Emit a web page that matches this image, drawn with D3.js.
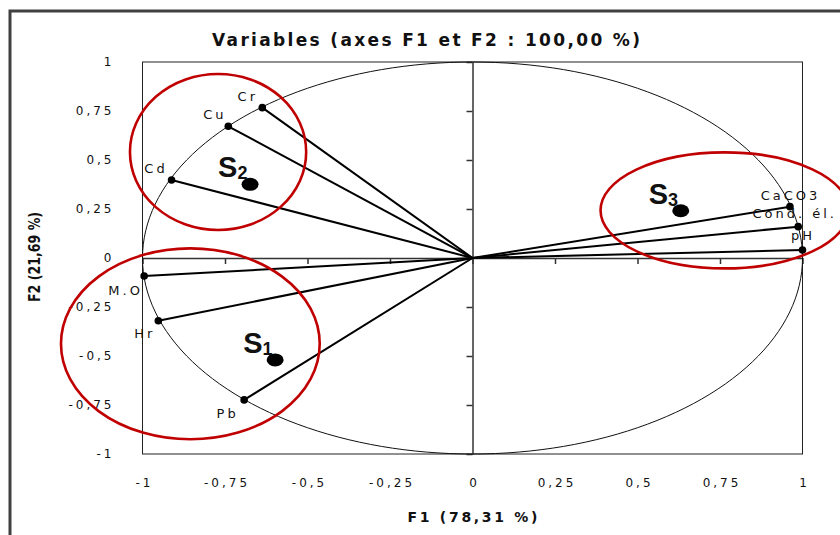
<!DOCTYPE html>
<html>
<head>
<meta charset="utf-8">
<script src="https://cdn.jsdelivr.net/npm/d3@7"></script>
<style>
  body { margin: 0; background: #fff; }
  svg { display: block; font-family: 'DejaVu Sans', sans-serif; }
</style>
</head>
<body>
<div id="chart"></div>
<script>
// Variables on the correlation circle (F1 / F2 loadings)
const VARIABLES = ['Cr', 'Cu', 'Cd', 'M.O', 'Hr', 'Pb', 'CaCO3', 'Cond. él.', 'pH'];
const F1 = [-0.637, -0.740, -0.912, -0.995, -0.952, -0.692, 0.962, 0.987, 1.000];
const F2 = [0.767, 0.672, 0.398, -0.092, -0.320, -0.724, 0.262, 0.160, 0.041];

const TICKS = [-1, -0.75, -0.5, -0.25, 0, 0.25, 0.5, 0.75, 1];
const TICK_LABELS = ['-1', '-0,75', '-0,5', '-0,25', '0', '0,25', '0,5', '0,75', '1'];

// Station groups S1..S3: marker position and the red ring around each group
const GROUPS = ['1', '2', '3'];
const GROUP_F1 = [-0.598, -0.674, 0.631];
const GROUP_F2 = [-0.520, 0.376, 0.241];
const RING_F1 = [-0.855, -0.771, 0.764];
const RING_F2 = [-0.438, 0.541, 0.243];
const RING_RX = [0.392, 0.267, 0.376];
const RING_RY = [0.487, 0.398, 0.296];

const TITLE = 'Variables (axes F1 et F2 : 100,00 %)';
const X_TITLE = 'F1 (78,31 %)';
const Y_TITLE = 'F2 (21,69 %)';

(function () {
  'use strict';
  const W = 840, H = 535;
  const plot = { left: 142.5, right: 802.5, top: 62, bottom: 454 };
  const LS = 3;   // letter spacing, tick labels
  const LS2 = 3;  // letter spacing, variable labels

  const svg = d3.select('#chart').append('svg').attr('width', W).attr('height', H);

  const x = d3.scaleLinear().domain([-1, 1]).range([plot.left, plot.right]);
  const y = d3.scaleLinear().domain([-1, 1]).range([plot.bottom, plot.top]);

  // outer frame (top + left only visible)
  svg.append('path')
    .attr('d', `M10,${H + 2} L10,11 L${W + 2},11`)
    .attr('fill', 'none').attr('stroke', '#404040').attr('stroke-width', 3);

  // title
  svg.append('text')
    .attr('x', 426).attr('y', 46).attr('text-anchor', 'middle')
    .attr('textLength', 428).attr('lengthAdjust', 'spacing')
    .style('font-size', '17px').style('font-weight', 'bold').style('fill', '#111')
    .text(TITLE);

  // plot box
  svg.append('rect')
    .attr('x', plot.left).attr('y', plot.top)
    .attr('width', plot.right - plot.left).attr('height', plot.bottom - plot.top)
    .attr('fill', 'none').attr('stroke', '#222').attr('stroke-width', 1);

  // tick labels along the box edges
  const fmt = v => TICK_LABELS[TICKS.indexOf(v)];
  const yLab = svg.append('g').attr('transform', `translate(${plot.left},0)`)
    .call(d3.axisLeft(y).tickValues(TICKS).tickFormat(fmt).tickSize(0).tickPadding(28));
  const xLab = svg.append('g').attr('transform', `translate(0,${plot.bottom})`)
    .call(d3.axisBottom(x).tickValues(TICKS).tickFormat(fmt).tickSize(0).tickPadding(24.5));
  [yLab, xLab].forEach(g => {
    g.select('.domain').remove();
    g.selectAll('text')
      .attr('font-family', null).attr('font-size', null)
      .style('font-family', "'DejaVu Sans', sans-serif")
      .style('font-size', '12px').style('letter-spacing', LS + 'px').style('fill', '#111');
  });
  xLab.selectAll('text').attr('dx', LS / 2);

  // zero axes with inner ticks
  const ax0 = svg.append('g').attr('transform', `translate(0,${y(0)})`)
    .call(d3.axisBottom(x).tickValues(TICKS).tickFormat('').tickSizeInner(6).tickSizeOuter(0));
  const ay0 = svg.append('g').attr('transform', `translate(${x(0)},0)`)
    .call(d3.axisLeft(y).tickValues(TICKS).tickFormat('').tickSizeInner(6).tickSizeOuter(0));
  [ax0, ay0].forEach(g => {
    g.selectAll('.domain, line').attr('stroke', '#333').attr('stroke-width', 1.5);
  });

  // unit correlation circle
  const circle = d3.range(0, 361, 2).map(a => [x(Math.cos(a * Math.PI / 180)), y(Math.sin(a * Math.PI / 180))]);
  svg.append('path')
    .attr('d', d3.line()(circle))
    .attr('fill', 'none').attr('stroke', '#111').attr('stroke-width', 1);

  // vectors from origin
  const pts = VARIABLES.map((name, i) => ({ name, f1: F1[i], f2: F2[i] }));
  svg.append('g').selectAll('line').data(pts).enter().append('line')
    .attr('x1', x(0)).attr('y1', y(0))
    .attr('x2', d => x(d.f1)).attr('y2', d => y(d.f2))
    .attr('stroke', '#000').attr('stroke-width', 2);

  svg.append('g').selectAll('circle').data(pts).enter().append('circle')
    .attr('cx', d => x(d.f1)).attr('cy', d => y(d.f2)).attr('r', 3.8)
    .attr('fill', '#000');

  // label placement (pixel offsets from the point, layout only)
  const labelOff = {
    'Cr': [-16, -7], 'Cu': [-15, -7], 'Cd': [-17, -7],
    'M.O': [-20, 19], 'Hr': [-15, 17], 'Pb': [-18, 18],
    'CaCO3': [-1, -7], 'Cond. él.': [-5, -9], 'pH': [-1, -10]
  };
  svg.append('g').selectAll('text').data(pts).enter().append('text')
    .attr('x', d => x(d.f1) + labelOff[d.name][0] + LS2 / 2)
    .attr('y', d => y(d.f2) + labelOff[d.name][1])
    .attr('text-anchor', 'middle')
    .style('font-size', '13px').style('letter-spacing', LS2 + 'px').style('fill', '#111')
    .text(d => d.name);

  // group markers S1..S3
  const groups = GROUPS.map((g, i) => ({ g, f1: GROUP_F1[i], f2: GROUP_F2[i] }));
  svg.append('g').selectAll('ellipse').data(groups).enter().append('ellipse')
    .attr('cx', d => x(d.f1)).attr('cy', d => y(d.f2))
    .attr('rx', 8.5).attr('ry', 6.5).attr('fill', '#000');

  const sLab = svg.append('g').selectAll('text').data(groups).enter().append('text')
    .attr('x', d => x(d.f1) - 32).attr('y', d => y(d.f2) - 7)
    .style('font-family', "'Liberation Sans', Arial, sans-serif")
    .style('font-weight', 'bold').style('font-size', '29px').style('fill', '#111');
  sLab.append('tspan').text('S');
  sLab.append('tspan').attr('dy', 2).style('font-size', '18px').text(d => d.g);

  // red rings around groups
  const rings = GROUPS.map((g, i) => ({ cx: RING_F1[i], cy: RING_F2[i], rx: RING_RX[i], ry: RING_RY[i] }));
  svg.append('g').selectAll('ellipse').data(rings).enter().append('ellipse')
    .attr('cx', d => x(d.cx)).attr('cy', d => y(d.cy))
    .attr('rx', d => x(d.cx + d.rx) - x(d.cx))
    .attr('ry', d => y(d.cy) - y(d.cy + d.ry))
    .attr('fill', 'none').attr('stroke', '#c00000').attr('stroke-width', 2.6);

  // axis titles
  svg.append('text')
    .attr('x', x(0)).attr('y', 522).attr('text-anchor', 'middle')
    .attr('textLength', 130).attr('lengthAdjust', 'spacing')
    .style('font-size', '14px').style('font-weight', 'bold').style('fill', '#111')
    .text(X_TITLE);

  svg.append('text')
    .attr('transform', `translate(40,${y(0) - 1}) rotate(-90)`)
    .attr('text-anchor', 'middle')
    .attr('textLength', 90).attr('lengthAdjust', 'spacingAndGlyphs')
    .style('font-size', '15px').style('font-weight', 'bold').style('fill', '#111')
    .text(Y_TITLE);
})();
</script>
</body>
</html>
